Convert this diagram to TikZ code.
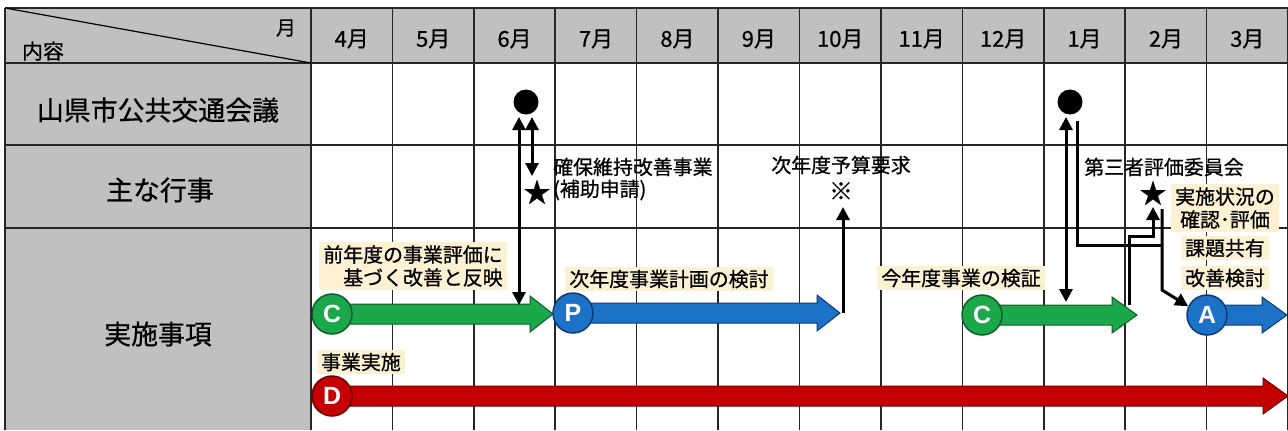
\documentclass[tikz,border=0pt]{standalone}
\usepackage{fontspec}
\setmainfont{Noto Sans CJK JP}[FakeBold=0.7]
\newfontfamily\latinb{Liberation Sans}
\usetikzlibrary{arrows.meta}
\definecolor{hdr}{HTML}{C0C0C0}
\definecolor{cgreen}{HTML}{1BA84A}
\definecolor{cgreenD}{HTML}{0B5E26}
\definecolor{cblue}{HTML}{1B72C6}
\definecolor{cblueD}{HTML}{0B3C78}
\definecolor{cred}{HTML}{C40000}
\definecolor{credD}{HTML}{6E0000}
\definecolor{ybg}{HTML}{FDF1D4}
\newcommand\myblockarrow[6]{% fill, outline, start x, head x, tip x, y
  \filldraw[fill=#1, draw=#2, line width=1bp, line join=miter]
    (#3,#6-10) -- (#4,#6-10) -- (#4,#6-18) -- (#5,#6) -- (#4,#6+18) -- (#4,#6+10) -- (#3,#6+10) -- cycle;}
\begin{document}
\begin{tikzpicture}[x=1bp,y=-1bp,
  grid/.style={line width=1.6bp, draw=black!85},
  lbl/.style={font=\fontsize{20}{23}\selectfont, inner sep=0pt},
  bglbl/.style={lbl, fill=ybg, inner xsep=4bp, inner ysep=3bp},
  month/.style={font=\fontsize{22}{24}\selectfont, inner sep=0pt},
  rowlbl/.style={font=\fontsize{27}{30}\selectfont, inner sep=0pt},
  starnode/.style={font=\fontsize{27}{27}\selectfont, inner sep=0pt},
  pdca/.style={circle, minimum size=40bp, inner sep=0pt, line width=1.5bp, text=white, font=\latinb\bfseries\fontsize{25}{25}\selectfont},
  dot/.style={circle, fill=black, minimum size=25bp, inner sep=0pt},
  conn/.style={line width=3bp, draw=black, >={Triangle[width=13bp,length=13bp]}},
  ]
\useasboundingbox (0,0) rectangle (1288,430);
\fill[white] (0,0) rectangle (1288,430);
\fill[hdr] (5,8) rectangle (1288,63);
\fill[hdr] (5,63) rectangle (311,430);
% grid
\foreach \y in {8,63,145,228} \draw[grid] (5,\y) -- (1288,\y);
\draw[grid] (5,8) -- (5,430);
\foreach \i in {0,...,12} \draw[grid] ({311+81.42*\i},8) -- ({311+81.42*\i},430);
\draw[line width=1.2bp] (5,8) -- (311,63);
% header texts
\node[lbl] (hm) at (286,28) {月};
\node[lbl, font=\fontsize{21}{23}\selectfont] (hn) at (43,51) {内容};
\foreach \m [count=\i from 0] in {4,5,6,7,8,9,10,11,12,1,2,3}
  \node[month] (mon\i) at ({311+81.42*(\i+0.5)},39) {\m 月};
% row labels
\node[rowlbl] (r1) at (158,110) {山県市公共交通会議};
\node[rowlbl] (r2) at (160,190) {主な行事};
\node[rowlbl] (r3) at (158,334) {実施事項};
% labels with background
\node[bglbl, align=right] (t1) at (413,266) {前年度の事業評価に\\基づく改善と反映};
\node[bglbl] (t2) at (669,279) {次年度事業計画の検討};
\node[bglbl] (t3) at (961,278) {今年度事業の検証};
\node[bglbl] (t4) at (361,362) {事業実施};
\node[bglbl, align=center] (t5) at (1225,208) {実施状況の\\確認･評価};
\node[bglbl] (t6) at (1225,248) {課題共有};
\node[bglbl] (t7) at (1225,278) {改善検討};
% plain labels
\node[lbl, align=left, anchor=west, font=\fontsize{20}{22}\selectfont] (t8) at (553,179) {確保維持改善事業\\(補助申請)};
\node[lbl] (t9) at (841,165) {次年度予算要求};
\node[lbl, font=\fontsize{24}{24}\selectfont] (t10) at (841,191) {※};
\node[lbl] (t11) at (1164,167) {第三者評価委員会};
\node[starnode] (s1) at (537,192) {★};
\node[starnode] (s2) at (1153,193) {★};
% block arrows
\myblockarrow{cgreen}{cgreenD}{332}{530}{553}{314}
\myblockarrow{cblue}{cblueD}{573}{817}{840}{313}
\myblockarrow{cgreen}{cgreenD}{982}{1112}{1137}{315}
\myblockarrow{cblue}{cblueD}{1207}{1262}{1287}{315}
\myblockarrow{cred}{credD}{332}{1263}{1288}{396}
% PDCA circles
\node[pdca, fill=cgreen, draw=cgreenD] (c1) at (332,314) {C};
\node[pdca, fill=cblue, draw=cblueD] (p1) at (573,313) {P};
\node[pdca, fill=cgreen, draw=cgreenD] (c2) at (982,315) {C};
\node[pdca, fill=cblue, draw=cblueD] (a1) at (1207,315) {A};
\node[pdca, fill=cred, draw=credD] (d1) at (332,396) {D};
% meeting dots
\node[dot] (m6) at (526,102) {};
\node[dot] (m1) at (1070,102) {};
% June connectors
\coordinate (m6l) at (519,117);
\coordinate (c1in) at (519,305);
\coordinate (m6r) at (532,117);
\coordinate (s1top) at (532,176);
\draw[conn,<->] (m6l) -- (c1in);
\draw[conn,<->] (m6r) -- (s1top);
% budget request
\coordinate (p1tip) at (843,313);
\coordinate (t10bot) at (843,207);
\draw[conn,->] (p1tip) -- (t10bot);
% January connectors
\coordinate (m1l) at (1066,117);
\coordinate (c2in) at (1066,302);
\draw[conn,<->] (m1l) -- (c2in);
\coordinate (m1r) at (1077,121);
\coordinate (join) at (1162,245);
\draw[conn] (m1r) -- (m1r |- join) -- (join);
\coordinate (s2bot) at (1162,209);
\coordinate (bend) at (1162,290);
\draw[conn,->] (s2bot) -- (bend) -- (a1.155);
\coordinate (c2tip) at (1129,305);
\coordinate (s2in) at (1153,207);
\draw[conn,->] (c2tip) -- (1129,236) -- (1153,236) -- (s2in);
\end{tikzpicture}
\end{document}
